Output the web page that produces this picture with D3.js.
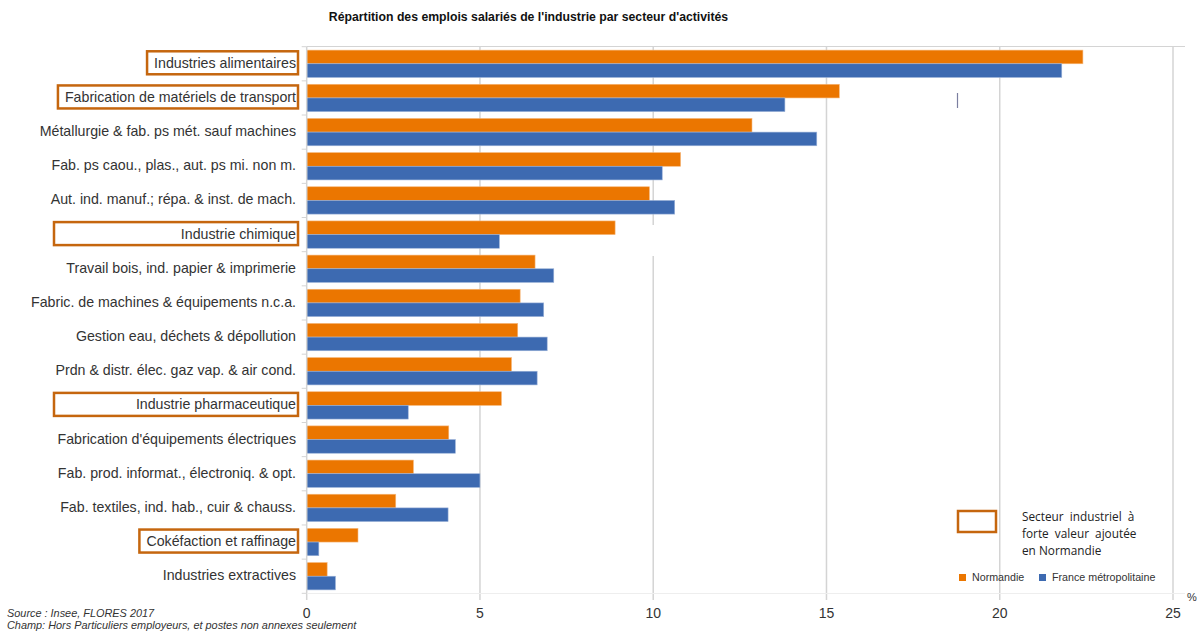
<!DOCTYPE html>
<html>
<head>
<meta charset="utf-8">
<script src="https://cdn.jsdelivr.net/npm/d3@7"></script>
<style>
  body { margin: 0; background: #fff; }
  text { font-family: "Liberation Sans", Arial, sans-serif; }
</style>
</head>
<body>
<svg id="chart" width="1199" height="637"></svg>
<script>
// -- data -- //
const categories = [
  "Industries alimentaires",
  "Fabrication de matériels de transport",
  "Métallurgie & fab. ps mét. sauf machines",
  "Fab. ps caou., plas., aut. ps mi. non m.",
  "Aut. ind. manuf.; répa. & inst. de mach.",
  "Industrie chimique",
  "Travail bois, ind. papier & imprimerie",
  "Fabric. de machines & équipements n.c.a.",
  "Gestion eau, déchets & dépollution",
  "Prdn & distr. élec. gaz vap. & air cond.",
  "Industrie pharmaceutique",
  "Fabrication d'équipements électriques",
  "Fab. prod. informat., électroniq. & opt.",
  "Fab. textiles, ind. hab., cuir & chauss.",
  "Cokéfaction et raffinage",
  "Industries extractives"
];
const normandie = [22.4, 15.37, 12.85, 10.79, 9.89, 8.9, 6.59, 6.16, 6.09, 5.91, 5.62, 4.1, 3.08, 2.57, 1.48, 0.59];
const france = [21.79, 13.8, 14.72, 10.26, 10.62, 5.56, 7.13, 6.84, 6.94, 6.65, 2.93, 4.29, 5.0, 4.08, 0.35, 0.83];
const seriesNames = ["Normandie", "France métropolitaine"];
const highlighted = ["Industries alimentaires", "Fabrication de matériels de transport", "Industrie chimique", "Industrie pharmaceutique", "Cokéfaction et raffinage"];
const wideBoxes = ["Industrie chimique", "Industrie pharmaceutique"];
const xTicks = [0, 5, 10, 15, 20, 25];

const orange = "#EB7600";
const blue = "#3D6AB1";
const boxColor = "#C5660E";
const gridColor = "#d4d4d4";

const svg = d3.select("#chart");

// -- scales -- //
const x = d3.scaleLinear().domain([0, 25]).range([306.7, 1173]);
const y = d3.scaleBand().domain(categories).range([46.7, 593.3]).paddingInner(0.2).paddingOuter(0.1);
const ySub = d3.scaleBand().domain(["n", "f"]).range([0, y.bandwidth()]);
const step = y.step();

// -- title -- //
svg.append("text")
  .attr("x", 528.5).attr("y", 21)
  .attr("text-anchor", "middle")
  .style("font-size", "12.25px").style("font-weight", "bold").style("fill", "#111")
  .text("Répartition des emplois salariés de l'industrie par secteur d'activités");

// -- grid -- //
svg.append("line")
  .attr("x1", x(0)).attr("x2", 1185).attr("y1", 46.5).attr("y2", 46.5)
  .style("stroke", gridColor);
svg.selectAll(".grid")
  .data(xTicks.slice(1))
  .enter().append("line")
  .attr("class", "grid")
  .attr("x1", d => x(d)).attr("x2", d => x(d))
  .attr("y1", 46.7).attr("y2", 600)
  .style("stroke", gridColor).style("stroke-width", 1.5);
// white patch covering part of the 10 gridline (as in original)
svg.append("rect").attr("x", x(10) - 3).attr("y", 225).attr("width", 6).attr("height", 31).style("fill", "#fff");

// -- bars -- //
const rows = categories.map((c, i) => ({ c, n: normandie[i], f: france[i] }));
svg.selectAll(".barN")
  .data(rows).enter().append("rect")
  .attr("class", "barN")
  .attr("x", x(0)).attr("y", d => y(d.c) + ySub("n"))
  .attr("width", d => x(d.n) - x(0)).attr("height", ySub.bandwidth())
  .style("fill", orange).style("stroke", "#f6b77a").style("stroke-width", 0.6);
svg.selectAll(".barF")
  .data(rows).enter().append("rect")
  .attr("class", "barF")
  .attr("x", x(0)).attr("y", d => y(d.c) + ySub("f"))
  .attr("width", d => x(d.f) - x(0)).attr("height", ySub.bandwidth())
  .style("fill", blue).style("stroke", "#9bb2d8").style("stroke-width", 0.6);

// stray mark from original
svg.append("line").attr("x1", 957.5).attr("x2", 957.5).attr("y1", 93).attr("y2", 108)
  .style("stroke", "#7b7fa0").style("stroke-width", 1.2);

// -- y axis -- //
svg.append("line")
  .attr("x1", x(0)).attr("x2", x(0)).attr("y1", 46.7).attr("y2", 600)
  .style("stroke", gridColor).style("stroke-width", 1.5);
svg.append("line")
  .attr("x1", x(0)).attr("x2", 1185).attr("y1", 593.5).attr("y2", 593.5)
  .style("stroke", "#eeeeee");
svg.selectAll(".ytick")
  .data(d3.range(categories.length + 1))
  .enter().append("line")
  .attr("class", "ytick")
  .attr("x1", x(0) - 5).attr("x2", x(0))
  .attr("y1", i => 46.7 + i * step).attr("y2", i => 46.7 + i * step)
  .style("stroke", gridColor);

const labels = svg.selectAll(".ylabel")
  .data(categories).enter().append("text")
  .attr("class", "ylabel")
  .attr("x", 296).attr("y", d => y(d) + y.bandwidth() / 2 - 1)
  .attr("dy", "0.35em")
  .attr("text-anchor", "end")
  .style("font-size", "14.2px").style("fill", "#333")
  .text(d => d);

// orange boxes round the high value-added sectors
labels.filter(d => highlighted.includes(d)).each(function(d) {
  const bb = this.getBBox();
  const cy = y(d) + y.bandwidth() / 2 - 1;
  const left = wideBoxes.includes(d) ? 54 : bb.x - 7;
  svg.append("rect")
    .attr("x", left).attr("y", cy - 11.5)
    .attr("width", 298 - left).attr("height", 23)
    .style("fill", "none").style("stroke", boxColor).style("stroke-width", 2.5);
});

// -- x axis labels -- //
svg.selectAll(".xlabel")
  .data(xTicks).enter().append("text")
  .attr("class", "xlabel")
  .attr("x", d => x(d)).attr("y", 618)
  .attr("text-anchor", "middle")
  .style("font-size", "14px").style("fill", "#333")
  .text(d => d);
svg.append("text")
  .attr("x", 1187).attr("y", 601)
  .style("font-size", "11px").style("fill", "#333")
  .text("%");

// -- legend -- //
svg.append("rect")
  .attr("x", 958).attr("y", 511).attr("width", 38).attr("height", 21)
  .style("fill", "none").style("stroke", boxColor).style("stroke-width", 2.5);
const noteLines = ["Secteur  industriel  à", "forte  valeur  ajoutée", "en Normandie"];
svg.selectAll(".note")
  .data(noteLines).enter().append("text")
  .attr("class", "note")
  .attr("x", 1022).attr("y", (d, i) => 521 + i * 17)
  .style("font-family", "'Open Sans', sans-serif")
  .style("font-size", "11.8px").style("fill", "#222")
  .style("white-space", "pre")
  .text(d => d);

const legendItems = [
  { name: seriesNames[0], color: orange, x: 959 },
  { name: seriesNames[1], color: blue, x: 1039 }
];
const leg = svg.selectAll(".leg").data(legendItems).enter().append("g").attr("class", "leg");
leg.append("rect")
  .attr("x", d => d.x).attr("y", 574).attr("width", 7).attr("height", 7)
  .style("fill", d => d.color);
leg.append("text")
  .attr("x", d => d.x + 13).attr("y", 581)
  .style("font-size", "10.7px").style("fill", "#333")
  .text(d => d.name);

// -- footer -- //
svg.append("text")
  .attr("x", 7).attr("y", 617)
  .style("font-size", "10.9px").style("font-style", "italic").style("fill", "#333")
  .text("Source : Insee, FLORES 2017");
svg.append("text")
  .attr("x", 7).attr("y", 629)
  .style("font-size", "10.9px").style("font-style", "italic").style("fill", "#333")
  .text("Champ: Hors Particuliers employeurs, et postes non annexes seulement");
</script>
</body>
</html>
